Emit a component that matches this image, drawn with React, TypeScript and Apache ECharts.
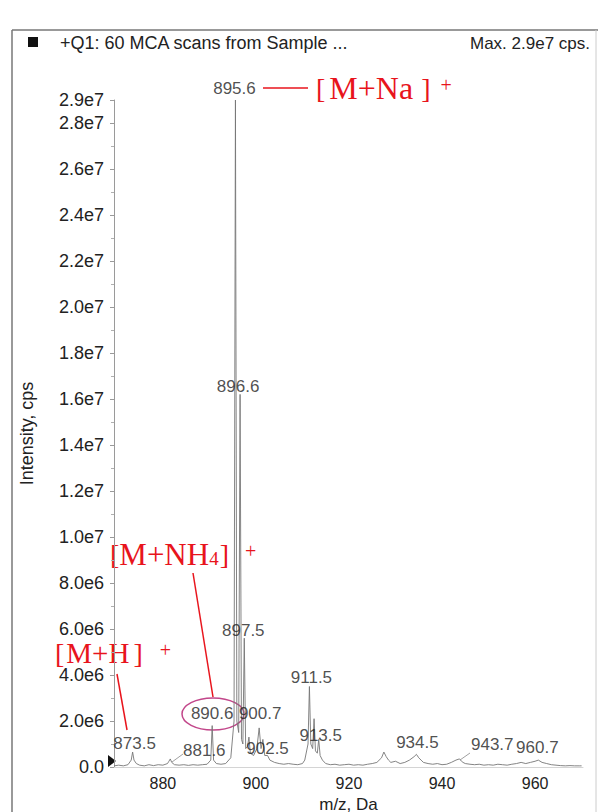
import React, { useEffect, useRef } from "react";
import * as echarts from "echarts";

// ---- data ----
const spectrumMz = [
  869.5, 870.5, 871.5, 872.5, 873.2, 873.5, 873.8, 874.3, 875, 876, 877, 878, 879, 880,
  881, 881.3, 881.6, 881.9, 882.5, 883.5, 884.5, 885.5, 886.5, 887.5, 888.5, 889.5,
  890.3, 890.6, 890.9, 891.5, 892.5, 893.5, 894.6, 895.3, 895.6, 895.9, 896.3, 896.6,
  896.9, 897.2, 897.5, 897.8, 898.2, 898.5, 898.8, 899.5, 900.2, 900.7, 901.1, 901.5,
  901.9, 902.5, 903, 904, 905, 906, 907, 908, 909, 910, 910.5, 911.2, 911.5, 911.8,
  912.2, 912.5, 912.8, 913.2, 913.5, 913.8, 914.3, 915, 916, 917, 918, 919, 920, 921,
  922, 923, 924, 925, 926, 927, 927.5, 928, 928.5, 929, 930, 931, 932, 933, 934, 934.5,
  935, 935.5, 936, 937, 938, 939, 940, 941, 942, 943, 943.7, 944.5, 945, 946, 947, 948,
  949, 950, 951, 952, 953, 954, 955, 956, 957, 958, 959, 960, 960.7, 961.5, 962.5,
  963.5, 964.5, 965.5, 966.5, 967.5, 968.5, 969.5, 970,
];
const spectrumIntensity = [
  0.05e6, 0.08e6, 0.05e6, 0.1e6, 0.3e6, 0.65e6, 0.3e6, 0.15e6, 0.08e6, 0.05e6, 0.1e6, 0.06e6, 0.1e6, 0.08e6,
  0.15e6, 0.25e6, 0.35e6, 0.2e6, 0.1e6, 0.08e6, 0.1e6, 0.07e6, 0.1e6, 0.08e6, 0.1e6, 0.12e6,
  0.3e6, 1.8e6, 0.3e6, 0.15e6, 0.12e6, 0.15e6, 0.4e6, 2.0e6, 2.9e7, 2.0e6, 1.5e6, 1.62e7,
  1.2e6, 1.0e6, 5.6e6, 0.8e6, 0.9e6, 1.3e6, 0.6e6, 0.5e6, 0.8e6, 1.7e6, 0.8e6, 1.2e6,
  0.5e6, 0.5e6, 0.3e6, 0.2e6, 0.15e6, 0.12e6, 0.15e6, 0.12e6, 0.1e6, 0.15e6, 0.3e6, 1.0e6, 3.5e6, 1.0e6,
  0.8e6, 2.1e6, 0.7e6, 0.6e6, 1.2e6, 0.5e6, 0.3e6, 0.15e6, 0.1e6, 0.12e6, 0.08e6, 0.1e6, 0.12e6, 0.08e6,
  0.1e6, 0.08e6, 0.12e6, 0.15e6, 0.2e6, 0.4e6, 0.65e6, 0.45e6, 0.3e6, 0.2e6, 0.25e6, 0.15e6, 0.2e6, 0.3e6, 0.45e6, 0.55e6,
  0.4e6, 0.3e6, 0.2e6, 0.15e6, 0.12e6, 0.15e6, 0.1e6, 0.12e6, 0.2e6, 0.3e6, 0.35e6, 0.2e6, 0.15e6, 0.12e6, 0.1e6, 0.12e6,
  0.08e6, 0.1e6, 0.08e6, 0.12e6, 0.1e6, 0.08e6, 0.12e6, 0.15e6, 0.2e6, 0.15e6, 0.2e6, 0.25e6, 0.3e6, 0.2e6, 0.15e6,
  0.1e6, 0.08e6, 0.06e6, 0.05e6, 0.06e6, 0.05e6, 0.05e6, 0.05e6,
];
const peakMz = [873.5, 881.6, 890.6, 895.6, 896.6, 897.5, 900.7, 902.5, 911.5, 913.5, 934.5, 943.7, 960.7];
const peakIntensity = [0.65e6, 0.35e6, 1.8e6, 2.9e7, 1.62e7, 5.6e6, 1.7e6, 0.5e6, 3.5e6, 1.2e6, 0.55e6, 0.35e6, 0.3e6];
const peakLabels = ["873.5", "881.6", "890.6", "895.6", "896.6", "897.5", "900.7", "902.5", "911.5", "913.5", "934.5", "943.7", "960.7"];
const xTicks = [880, 900, 920, 940, 960];
const headerLeft = "+Q1: 60 MCA scans from Sample ...";
const headerRight = "Max. 2.9e7 cps.";
const xTitle = "m/z, Da";
const yTitle = "Intensity, cps";
const ionNa = "M+Na";
const ionNH = "M+NH";
const ionNHSub = "4";
const ionH = "M+H";

// ---- layout (pixel offsets of peak labels from the peak apex) ----
const labelOffsets: [number, number][] = [
  [2, -9], [34, -8], [0, -12], [-1, -12], [-2, -8], [-1, -8], [1, -14],
  [0, -7], [2, -9], [2, -4], [1, -12], [33, -14], [-1, -13],
];

const SANS = "'Liberation Sans', Arial, sans-serif";
const SERIF = "'Liberation Serif', 'Times New Roman', serif";
const RED = "#e8141c";

function fmtY(v: number): string {
  if (v === 0) return "0.0";
  const e = Math.floor(Math.log10(v) + 1e-9);
  const m = v / Math.pow(10, e);
  return m.toFixed(1) + "e" + e;
}

// pads: [left bracket → body, body → right bracket, right bracket → plus]
function ionLabel(x: number, y: number, body: string, sub: string, size: number, pads: [number, number, number]) {
  const subPart = sub ? `{s|${sub}}` : "";
  return {
    type: "text",
    x,
    y,
    style: {
      text: `{b|[}{t|${body}}${subPart}{r|]}{p|+}`,
      fill: RED,
      textVerticalAlign: "middle",
      rich: {
        b: { fontFamily: SERIF, fontSize: 28, fill: RED, padding: [0, pads[0], 0, 0] },
        r: { fontFamily: SERIF, fontSize: 28, fill: RED, padding: [0, 0, 0, pads[1]] },
        t: { fontFamily: SERIF, fontSize: size, fill: RED },
        s: { fontFamily: SERIF, fontSize: 19, fill: RED, padding: [9, 0, 0, 0] },
        p: { fontFamily: SERIF, fontSize: 20, fill: RED, padding: [0, 0, 6, pads[2]] },
      },
    },
  };
}

export default function App() {
  const ref = useRef<HTMLDivElement>(null);
  useEffect(() => {
    if (!ref.current) return;
    const chart = echarts.init(ref.current, undefined, { renderer: "svg" });
    const spectrum = spectrumMz.map((m, i) => [m, spectrumIntensity[i]]);
    const peaks = peakMz.map((m, i) => ({
      value: [m, peakIntensity[i]],
      label: { offset: labelOffsets[i] },
    }));
    chart.setOption({
      animation: false,
      backgroundColor: "#fff",
      grid: { left: 114, top: 100, width: 469, height: 667, containLabel: false, outerBoundsMode: "none" },
      xAxis: {
        type: "value",
        min: 869.5,
        max: 970.3,
        name: xTitle,
        nameLocation: "middle",
        nameGap: 20,
        nameTextStyle: { fontFamily: SANS, fontSize: 17, color: "#222" },
        axisLine: { show: true, lineStyle: { color: "#d4d4d4", width: 1 } },
        axisTick: { show: false, customValues: xTicks },
        axisLabel: { customValues: xTicks, fontFamily: SANS, fontSize: 16, color: "#222", margin: 8 },
        splitLine: { show: false },
      },
      yAxis: {
        type: "value",
        min: 0,
        max: 2.9e7,
        interval: 2e6,
        name: yTitle,
        nameLocation: "middle",
        nameRotate: 90,
        nameGap: 78,
        nameTextStyle: { fontFamily: SANS, fontSize: 18, color: "#222" },
        axisLine: { show: true, lineStyle: { color: "#9a9a9a", width: 1 } },
        axisTick: { show: true, length: 4, lineStyle: { color: "#9a9a9a" } },
        minorTick: { show: true, splitNumber: 2, length: 3, lineStyle: { color: "#b0b0b0" } },
        axisLabel: { formatter: fmtY, fontFamily: SANS, fontSize: 18, color: "#222", margin: 10 },
        splitLine: { show: false },
      },
      series: [
        {
          type: "line",
          data: spectrum,
          symbol: "none",
          lineStyle: { color: "#767676", width: 0.9 },
          z: 2,
        },
        {
          type: "scatter",
          data: peaks,
          symbolSize: 0,
          silent: true,
          label: {
            show: true,
            position: "inside",
            formatter: (p: any) => peakLabels[p.dataIndex],
            fontFamily: SANS,
            fontSize: 17,
            color: "#222",
            align: "center",
            verticalAlign: "middle",
          },
          z: 3,
        },
      ],
      graphic: [
        // frame
        { type: "line", shape: { x1: 12, y1: 30, x2: 598, y2: 30 }, style: { stroke: "#777", lineWidth: 1.5 } },
        { type: "line", shape: { x1: 12, y1: 30, x2: 12, y2: 812 }, style: { stroke: "#777", lineWidth: 1.5 } },
        { type: "line", shape: { x1: 596, y1: 30, x2: 596, y2: 812 }, style: { stroke: "#ccc", lineWidth: 1 } },
        // header
        { type: "rect", shape: { x: 28, y: 37, width: 10, height: 10 }, style: { fill: "#111" } },
        { type: "text", x: 60, y: 43, style: { text: headerLeft, font: `18px ${SANS}`, fill: "#222", textVerticalAlign: "middle" } },
        { type: "text", x: 590, y: 43, style: { text: headerRight, font: `17px ${SANS}`, fill: "#222", textAlign: "right", textVerticalAlign: "middle" } },
        // origin marker
        { type: "polygon", shape: { points: [[108, 755], [116, 761], [108, 767]] }, style: { fill: "#111" } },
        // leader lines for offset labels
        { type: "line", shape: { x1: 172, y1: 762, x2: 183, y2: 754 }, style: { stroke: "#888", lineWidth: 0.8 } },
        { type: "line", shape: { x1: 460, y1: 760, x2: 470, y2: 753 }, style: { stroke: "#888", lineWidth: 0.8 } },
        // [M+Na]+
        { type: "line", shape: { x1: 263, y1: 88, x2: 308, y2: 88 }, style: { stroke: RED, lineWidth: 1.5 } },
        ionLabel(316, 88, ionNa, "", 32, [4, 8, 10]),
        // [M+NH4]+
        { type: "line", shape: { x1: 193, y1: 573, x2: 213, y2: 697 }, style: { stroke: RED, lineWidth: 1.5 } },
        ionLabel(110, 554, ionNH, ionNHSub, 31, [0, 1, 16]),
        // [M+H]+
        { type: "line", shape: { x1: 117, y1: 674, x2: 127, y2: 730 }, style: { stroke: RED, lineWidth: 1.5 } },
        ionLabel(55, 653, ionH, "", 29, [2, 4, 17]),
        // circle around 890.6
        { type: "ellipse", shape: { cx: 213, cy: 714, rx: 31, ry: 16 }, style: { fill: "none", stroke: "#c2468a", lineWidth: 1.5 } },
      ],
    });
    return () => chart.dispose();
  }, []);
  return <div ref={ref} style={{ position: "fixed", left: 0, top: 0, width: 598, height: 812 }} />;
}
